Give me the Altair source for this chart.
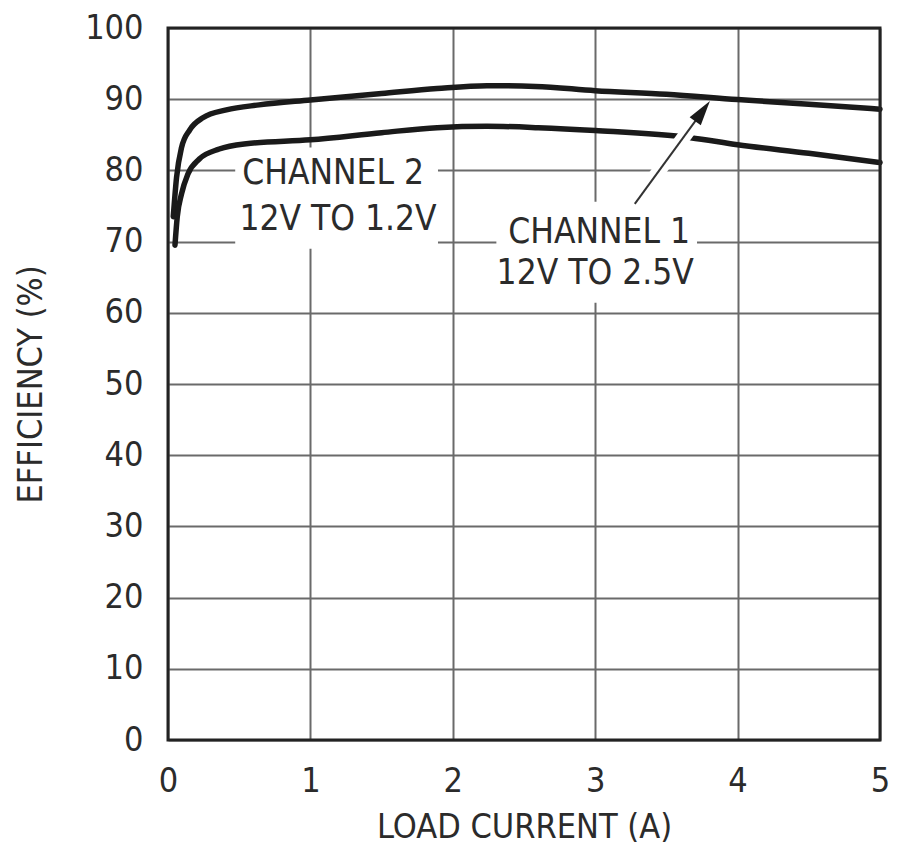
import altair as alt
import pandas as pd

# Channel 1: 12V to 2.5V (upper curve)
ch1_x = [0.037, 0.06, 0.095, 0.153, 0.245, 0.41, 0.64, 1.0, 1.5, 1.89, 2.24, 2.58, 3.0, 3.5, 4.0, 4.5, 5.0]
ch1_y = [73.5, 79.0, 83.2, 85.7, 87.4, 88.5, 89.2, 89.9, 90.8, 91.5, 91.9, 91.8, 91.2, 90.7, 89.95, 89.3, 88.6]
# Channel 2: 12V to 1.2V (lower curve)
ch2_x = [0.049, 0.065, 0.095, 0.14, 0.22, 0.36, 0.55, 1.0, 1.5, 1.89, 2.24, 2.6, 3.0, 3.67, 4.0, 4.5, 5.0]
ch2_y = [69.5, 73.5, 76.7, 79.5, 81.6, 83.0, 83.75, 84.3, 85.3, 86.0, 86.2, 86.0, 85.6, 84.6, 83.6, 82.4, 81.1]

x_ticks = [0, 1, 2, 3, 4, 5]
y_ticks = [0, 10, 20, 30, 40, 50, 60, 70, 80, 90, 100]

# annotation label text and anchor (data units)
label_text = ["CHANNEL 2", "12V TO 1.2V", "CHANNEL 1", "12V TO 2.5V"]
label_x = [1.16, 1.194, 3.028, 3.0]
label_y = [79.7, 73.2, 71.4, 65.6]

# white knock-out boxes behind labels (data units)
box_x1 = [0.472, 2.306]
box_x2 = [1.896, 3.715]
box_y1 = [69.0, 61.4]
box_y2 = [83.2, 75.6]

# arrow (data units)
arrow_x = [3.278, 3.754]
arrow_y = [75.3, 88.32]
halo_x = [3.278, 3.703]
halo_y = [75.3, 86.9]
head_x = [3.754]
head_y = [88.32]

frame_x = [0]
frame_x2 = [5]
frame_y = [0]
frame_y2 = [100]

FONT = "DejaVu Sans Condensed"
TXT = "#2b2b2b"
FS = 34

curves = pd.DataFrame({
    "x": ch1_x + ch2_x,
    "y": ch1_y + ch2_y,
    "ch": ["Channel 1"] * len(ch1_x) + ["Channel 2"] * len(ch2_x),
})
labels = pd.DataFrame({"x": label_x, "y": label_y, "t": label_text})
boxes = pd.DataFrame({"x": box_x1, "x2": box_x2, "y": box_y1, "y2": box_y2})
arrow = pd.DataFrame({"x": arrow_x, "y": arrow_y})
halo = pd.DataFrame({"x": halo_x, "y": halo_y})
head = pd.DataFrame({"x": head_x, "y": head_y})
frame = pd.DataFrame({"x": frame_x, "x2": frame_x2, "y": frame_y, "y2": frame_y2})

xs = alt.Scale(domain=[0, 5], nice=False, zero=False)
ys = alt.Scale(domain=[0, 100], nice=False)

x_axis = alt.Axis(values=x_ticks, grid=True, ticks=False, domain=False,
                  title="LOAD CURRENT (A)", labelPadding=24, titlePadding=12,
                  labelFlush=False)
y_axis = alt.Axis(values=y_ticks, grid=True, ticks=False, domain=False,
                  title="EFFICIENCY (%)", labelPadding=25, titlePadding=36)

X = alt.X("x:Q", scale=xs, axis=x_axis)
Y = alt.Y("y:Q", scale=ys, axis=y_axis)

box_layer = alt.Chart(boxes).mark_rect(fill="white").encode(
    x=X, x2="x2:Q", y=Y, y2="y2:Q",
)

curve_layer = alt.Chart(curves).mark_line(
    color="#1a1a1a", strokeWidth=5.5, interpolate="monotone", strokeCap="round"
).encode(x=X, y=Y, detail="ch:N")

halo_layer = alt.Chart(halo).mark_line(color="white", strokeWidth=14, strokeCap="butt").encode(
    x=X, y=Y,
)

arrow_layer = alt.Chart(arrow).mark_line(color="#333333", strokeWidth=2).encode(
    x=X, y=Y,
)

head_layer = alt.Chart(head).mark_point(
    shape="M0,-1L0.55,1L-0.55,1Z", size=625, angle=36, filled=True,
    color="#1a1a1a", opacity=1, strokeWidth=0
).encode(x=X, y=Y)

text_layer = alt.Chart(labels).mark_text(
    font=FONT, fontSize=35, color=TXT, align="center", baseline="middle"
).encode(x=X, y=Y, text="t:N")

frame_layer = alt.Chart(frame).mark_rect(
    filled=False, stroke="#222222", strokeWidth=3
).encode(x=X, x2="x2:Q", y=Y, y2="y2:Q")

chart = alt.layer(
    box_layer, curve_layer, halo_layer, arrow_layer, head_layer, text_layer, frame_layer
).properties(
    width=712, height=712,
    autosize=alt.AutoSizeParams(type="none"),
    padding={"left": 160, "top": 20, "right": 12, "bottom": 107},
    background="white",
).configure_view(
    stroke=None
).configure_axis(
    gridColor="#6a6a6a", gridWidth=2, gridOpacity=1,
    labelFont=FONT, labelFontSize=FS, labelColor=TXT,
    titleFont=FONT, titleFontSize=FS, titleColor=TXT, titleFontWeight="normal",
)

chart.save("out.html", embed_options={"renderer": "svg", "actions": False})
